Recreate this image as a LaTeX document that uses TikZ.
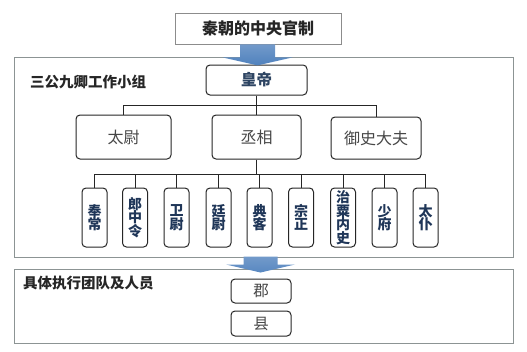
\documentclass[tikz,border=0pt]{standalone}
\usepackage{fontspec}
\newfontfamily\cjk{Noto Sans CJK SC}
\definecolor{arrowblue}{HTML}{4F81BD}
\definecolor{deepblue}{HTML}{1F3658}
\definecolor{empblue}{HTML}{2E4563}
\definecolor{panelgray}{HTML}{8C9494}
\begin{document}
\begin{tikzpicture}[x=1pt,y=-1pt,
  panel/.style={draw=panelgray, line width=0.8pt, fill=white, inner sep=0pt, anchor=north west},
  rbox/.style={draw=black!85, line width=1pt, rounded corners=4pt, fill=white, inner sep=0pt,
               font=\cjk\fontsize{16}{17}\selectfont, text=black!72},
  smallbox/.style={rbox, minimum width=25pt, minimum height=59pt,
               font=\cjk\bfseries\fontsize{14}{13.5}\selectfont, text=deepblue, align=center},
  lowbox/.style={rbox, minimum width=60pt, font=\cjk\fontsize{15.5}{16}\selectfont},
  grouplabel/.style={anchor=west, inner sep=0pt, font=\cjk\bfseries\fontsize{14.5}{15}\selectfont, text=black!85},
  conn/.style={draw=black!85, line width=1pt},
  bluearrow/.style={top color=arrowblue!80, bottom color=arrowblue, draw=none}
]
\useasboundingbox (0,0) rectangle (527,351);

% panels
\node[panel, minimum width=499pt, minimum height=200pt] (p1) at (14,57) {};
\node[panel, minimum width=499pt, minimum height=74pt] (p2) at (14,269) {};

% title
\node[draw=black!45, line width=0.8pt, fill=white, minimum width=166pt, minimum height=31pt, inner sep=0pt,
      font=\cjk\bfseries\fontsize{16}{17}\selectfont, text=black!85] (title) at (258,28.5) {秦朝的中央官制};

% group labels
\node[grouplabel] (g1) at (30,82) {三公九卿工作小组};
\node[grouplabel] (g2) at (23,283) {具体执行团队及人员};

% emperor
\node[rbox, minimum width=101pt, minimum height=30pt, font=\cjk\bfseries\fontsize{15.5}{16}\selectfont, text=empblue] (emp) at (256.5,80) {皇帝};

% three lords
\node[rbox, minimum width=95pt, minimum height=44pt] (tw) at (123.5,137) {太尉};
\node[rbox, minimum width=89pt, minimum height=44pt] (cx) at (256.5,137) {丞相};
\node[rbox, minimum width=90pt, minimum height=42pt] (ys) at (376,138) {御史大夫};

% nine ministers
\node[smallbox] (s1) at (94.5,217.5) {奉\\常};
\node[smallbox] (s2) at (135,217.5) {郎\\中\\令};
\node[smallbox] (s3) at (176.5,217.5) {卫\\尉};
\node[smallbox] (s4) at (218.5,217.5) {廷\\尉};
\node[smallbox] (s5) at (259.5,217.5) {典\\客};
\node[smallbox] (s6) at (301,217.5) {宗\\正};
\node[smallbox] (s7) at (343,217.5) {治\\粟\\内\\史};
\node[smallbox] (s8) at (384.5,217.5) {少\\府};
\node[smallbox] (s9) at (425.5,217.5) {太\\仆};

% commanderies and counties
\node[lowbox, minimum height=24pt] (jun) at (261,291) {郡};
\node[lowbox, minimum height=25pt] (xian) at (261,323.5) {县};

% connectors
\path (emp.south) ++(0,10) coordinate (b1);
\draw[conn] (emp.south) -- (b1);
\draw[conn] (tw.north) -- (tw.north |- b1) -- (ys.north |- b1) -- (ys.north);
\draw[conn] (b1) -- (cx.north);
\path (cx.south) ++(0,14.5) coordinate (b2);
\draw[conn] (cx.south) -- (b2);
\draw[conn] (s1.north) -- (s1.north |- b2) -- (s9.north |- b2) -- (s9.north);
\foreach \i in {2,...,8} { \draw[conn] (s\i.north) -- (s\i.north |- b2); }

% blue arrows
\path[bluearrow] (title.south) ++(-18,0) -- ++(35,0) -- ++(0,13) -- ++(17.5,0) -- ++(-35,8) -- ++(-35,-8) -- ++(17.5,0) -- cycle;
\path[bluearrow] (jun.north) ++(-17.5,-22) -- ++(34,0) -- ++(0,8) -- ++(17.5,0) -- ++(-34.5,8) -- ++(-34.5,-8) -- ++(17.5,0) -- cycle;
\end{tikzpicture}
\end{document}
